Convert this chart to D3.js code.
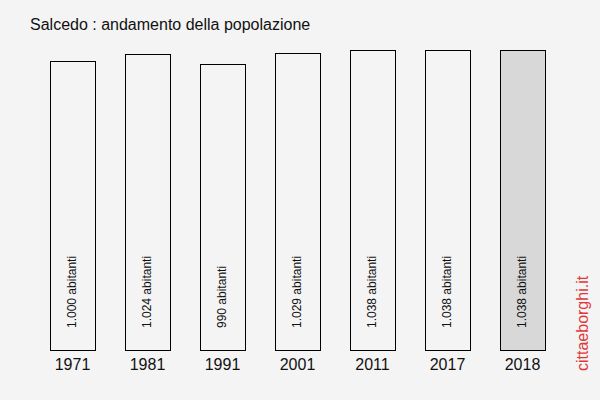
<!DOCTYPE html>
<html><head><meta charset="utf-8">
<script src="https://cdn.jsdelivr.net/npm/d3@7"></script>
<style>body{margin:0;background:#f4f4f4}svg{display:block}text{font-family:Arial,"Liberation Sans",sans-serif}</style>
</head><body>
<script>
const years = ["1971","1981","1991","2001","2011","2017","2018"];
const values = [1000,1024,990,1029,1038,1038,1038];
const labels = ["1.000 abitanti","1.024 abitanti","990 abitanti","1.029 abitanti","1.038 abitanti","1.038 abitanti","1.038 abitanti"];
const title = "Salcedo : andamento della popolazione";
const watermark = "cittaeborghi.it";

const W=600,H=400;
const svg=d3.select("body").append("svg").attr("width",W).attr("height",H);
svg.append("rect").attr("width",W).attr("height",H).attr("fill","#f4f4f4");

const x=d3.scaleBand().domain(years).range([35,560]).paddingInner(0.4).paddingOuter(0.2);
const y=d3.scaleLinear().domain([0,1038]).range([350,50]);

svg.append("text").attr("x",30).attr("y",30).attr("font-size",16).attr("fill","#111").text(title);

svg.selectAll("rect.bar").data(years).join("rect").attr("class","bar")
  .attr("x",d=>Math.round(x(d))+0.5).attr("y",(d,i)=>Math.round(y(values[i]))+0.5)
  .attr("width",Math.round(x.bandwidth())).attr("height",(d,i)=>350-Math.round(y(values[i])))
  .attr("fill",(d,i)=>i===years.length-1?"#d8d8d8":"#f4f4f4")
  .attr("stroke","#000").attr("stroke-width",1);

svg.selectAll("text.lab").data(years).join("text").attr("class","lab")
  .attr("transform",(d)=>`translate(${x(d)+x.bandwidth()/2+3},328) rotate(-90)`)
  .attr("font-size",12).attr("fill","#111").text((d,i)=>labels[i]);

const ax=svg.append("g").attr("transform","translate(0,350)").call(d3.axisBottom(x).tickSize(0).tickPadding(0));
ax.select(".domain").remove();
ax.selectAll("text").attr("dy",null).attr("y",20).attr("font-size",16).attr("fill","#111").attr("font-family","Arial, 'Liberation Sans', sans-serif");

svg.append("text").attr("transform","translate(588,371) rotate(-90)").attr("font-size",16).attr("fill","#e03838").text(watermark);
</script>
</body></html>
